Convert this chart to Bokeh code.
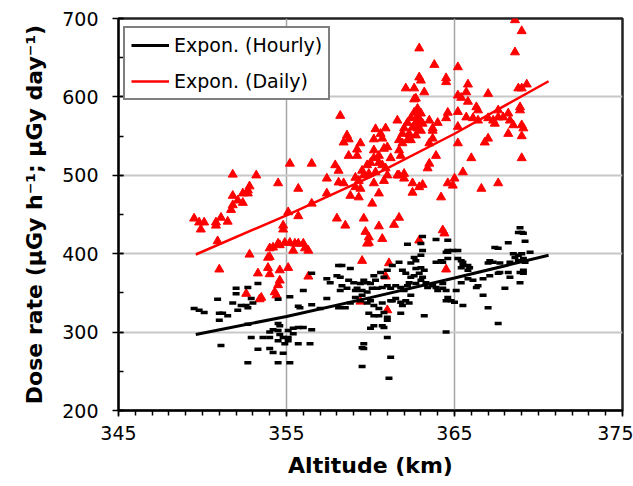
from bokeh.plotting import figure
from bokeh.models import Legend, LegendItem, FixedTicker, Range1d
from bokeh.embed import file_html
from bokeh.resources import INLINE

# ---- data: daily dose rate (red triangles) ----
red_alt = [349.5, 349.8, 350.1, 349.9, 350.8, 350.8, 351.1, 351.5, 351.8, 353.2, 352.8, 352.7, 352.4, 352.7,
           351.8, 352.1, 352.4, 351.8, 351.7, 350.9, 355.2, 356.5, 354.5, 355.7, 355.1, 355.7, 356.5, 354.8,
           354.8, 354.2, 354.5, 354.6, 354.9, 355.2, 355.5, 355.7, 356.0, 356.1, 356.3, 355.4, 354.0, 352.8,
           353.9, 354.0, 353.9, 354.0, 353.3, 354.6, 355.1, 356.3, 351.0, 354.6, 354.5, 354.3, 352.6, 353.5,
           354.4, 353.4, 357.4, 357.4,
           362.9, 363.8, 362.9, 363.0, 362.1, 362.6, 363.2, 362.6, 362.7, 362.8, 362.6, 362.8, 363.0, 362.4,
           362.2, 362.7, 362.9, 363.1, 362.5, 362.8, 363.0, 362.0, 361.9, 362.3, 362.7, 362.2, 361.9, 362.4,
           361.6, 358.2, 360.3, 360.9, 360.6, 360.2, 360.7, 358.6, 358.7, 358.4, 359.2, 358.7, 359.2, 359.4,
           360.2, 360.8, 360.5, 360.2, 360.0, 360.5, 360.7, 360.9, 361.2, 361.7, 361.8, 361.0, 361.7, 359.8,
           359.5, 359.6, 359.3, 359.1, 359.9, 360.3, 357.9, 358.1, 358.1, 358.4, 359.1, 359.4, 360.2, 360.8,
           361.0, 361.7, 362.0, 362.0, 362.5, 362.9, 363.1, 358.8, 359.3, 360.1, 360.5, 363.5, 363.7, 364.0,
           364.6, 363.7, 363.9, 363.5, 363.4, 364.2, 364.6,
           368.6, 369.0, 368.6, 365.2, 364.5, 364.5, 365.8, 365.7, 365.2, 365.4, 367.0, 368.8, 369.0, 369.3,
           365.8, 366.3, 366.4, 365.2, 365.7, 366.1, 366.4, 367.0, 367.3, 367.6, 367.6, 367.4, 367.9, 368.2,
           368.3, 368.5, 368.2, 368.9, 368.9, 369.0, 369.1, 369.0, 369.0, 364.5, 363.7, 363.5, 365.2, 365.2,
           367.0, 366.8, 366.0, 365.5, 365.0, 364.9, 366.6, 367.6, 362.5, 361.6,
           358.0, 358.5, 359.6, 359.7, 360.5, 361.4, 361.7, 359.9, 359.9, 359.8, 360.7, 359.5, 361.1, 360.9,
           359.4, 361.0, 362.9, 364.3, 364.4, 364.5]
red_dose = [445, 440, 440, 431, 440, 436, 446, 441, 501, 500, 486, 481, 477, 477,
            474, 468, 465, 462, 456, 416, 515, 515, 490, 483, 453, 448, 464, 436,
            431, 408, 413, 411, 414, 414, 413, 413, 413, 407, 404, 404, 407, 399,
            395, 396, 382, 374, 375, 379, 382, 371, 380, 366, 360, 351, 349, 344,
            347, 342, 477, 496,
            662, 641, 625, 621, 611, 611, 606, 597, 598, 585, 580, 576, 579, 573,
            567, 567, 570, 566, 561, 560, 557, 560, 553, 553, 551, 545, 541, 545,
            570, 576, 559, 560, 553, 546, 547, 551, 546, 542, 533, 525, 525, 541,
            532, 534, 525, 522, 516, 516, 513, 509, 522, 532, 525, 536, 545, 513,
            506, 500, 493, 497, 502, 504, 513, 506, 491, 490, 485, 483, 490, 493,
            500, 500, 502, 496, 490, 485, 488, 474, 472, 464, 477, 570, 560, 567,
            580, 547, 525, 515, 509, 472, 490,
            698, 684, 657, 638, 624, 619, 616, 606, 602, 599, 604, 611, 611, 616,
            594, 587, 583, 581, 574, 573, 570, 573, 570, 583, 574, 566, 574, 579,
            570, 564, 553, 583, 587, 564, 560, 550, 522, 573, 557, 541, 562, 541,
            547, 542, 522, 504, 496, 487, 483, 490, 478, 500,
            445, 436, 445, 428, 435, 437, 446, 421, 414, 413, 419, 391, 388, 371,
            339, 328, 417, 430, 426, 380]

# ---- data: hourly dose rate (black dashes) ----
blk_alt = [349.5, 349.8, 350.1, 350.9, 351.0, 351.2, 351.5, 351.0, 352.0, 352.0, 352.7, 353.3, 351.8, 352.3,
           352.6, 353.0, 352.1, 352.7, 352.9, 354.5, 355.2, 356.0, 355.7, 356.5, 357.4, 356.5, 352.7, 354.5,
           354.6, 354.5, 354.2, 354.0, 354.6, 355.1, 355.4, 355.4, 355.1, 354.8, 354.5, 354.0, 355.1, 354.9,
           352.9, 353.6, 355.7, 356.0, 356.5, 355.7, 356.4, 351.1, 353.3, 354.0, 354.2, 354.8, 352.7, 354.5,
           355.2, 355.8,
           363.1, 362.2, 363.9, 363.0, 363.1, 363.0, 362.6, 362.7, 362.4, 362.7, 363.0, 363.2, 362.9, 363.1,
           362.6, 362.4, 362.1, 361.9, 362.3, 362.2, 362.7, 363.0, 363.3, 363.4, 363.7, 363.9, 364.0, 364.3,
           364.3, 364.5, 364.6, 363.9, 364.2, 361.7, 361.3, 361.0, 360.6, 360.8, 360.2, 360.3, 360.0, 359.8,
           359.6, 359.4, 359.2, 359.5, 359.8, 360.1, 360.4, 360.7, 361.0, 361.2, 361.5, 361.8, 362.0, 362.4,
           362.1, 361.8, 361.5, 361.3, 358.1, 358.3, 358.8, 358.0, 358.2, 357.4, 357.6, 358.7, 359.0, 358.3,
           358.6, 358.2, 359.1, 359.5, 359.1, 359.4, 359.8, 360.0, 360.2, 360.5, 360.7, 360.8, 359.9, 360.2,
           360.5, 361.0, 361.2, 361.8, 361.9, 362.3, 358.1, 358.5, 358.8, 357.0, 360.2, 360.0, 360.7, 360.8,
           361.0, 361.0, 359.6, 359.5, 359.6, 359.5, 361.2, 361.1, 363.2, 364.5, 364.3, 364.5,
           368.9, 369.0, 368.8, 369.1, 369.2, 368.2, 367.6, 367.4, 368.5, 368.8, 369.0, 369.5, 368.6, 368.8,
           369.1, 369.2, 369.1, 368.9, 369.1, 368.9, 368.3, 368.2, 368.3, 367.7, 367.3, 367.1, 367.0, 367.1,
           367.6, 367.7, 366.7, 366.1, 368.0, 366.3, 366.4, 366.7, 367.0, 367.6, 364.9, 364.6, 365.2, 364.6,
           365.2, 365.4, 365.5, 365.4, 365.5, 365.8, 365.8, 365.9, 365.8, 365.4, 365.1, 364.5, 364.6, 364.8,
           365.0, 365.5, 364.6]
blk_dose = [330, 328, 325, 342, 324, 324, 321, 315, 356, 349, 357, 362, 337, 334,
            334, 337, 328, 331, 343, 342, 345, 353, 333, 335, 343, 375, 310, 311,
            308, 302, 303, 300, 297, 302, 305, 298, 293, 293, 289, 293, 289, 285,
            293, 293, 306, 306, 303, 285, 285, 283, 278, 279, 274, 273, 261, 261,
            261, 331,
            422, 412, 418, 413, 404, 398, 395, 391, 388, 381, 382, 379, 375, 370,
            372, 370, 375, 379, 363, 359, 362, 366, 363, 357, 359, 357, 353, 356,
            389, 402, 404, 389, 391, 389, 385, 379, 376, 370, 372, 366, 362, 363,
            366, 362, 356, 353, 351, 356, 356, 357, 359, 356, 359, 357, 353, 347,
            340, 338, 343, 340, 385, 385, 381, 372, 370, 368, 363, 366, 363, 359,
            356, 353, 353, 347, 344, 340, 337, 340, 334, 330, 337, 325, 324, 321,
            321, 319, 340, 324, 334, 337, 331, 331, 337, 330, 308, 305, 308, 306,
            315, 293, 285, 280, 279, 256, 268, 241, 321, 300, 362, 340,
            433, 427, 427, 426, 416, 414, 407, 408, 400, 398, 400, 402, 395, 391,
            394, 389, 379, 376, 375, 363, 389, 376, 370, 388, 389, 391, 388, 372,
            375, 376, 368, 366, 356, 357, 359, 347, 331, 311, 404, 402, 404, 394,
            394, 391, 389, 382, 385, 385, 379, 382, 368, 363, 353, 353, 344, 340,
            338, 334, 417]

# ---- exponential trendlines ----
fit_alt = [349.6, 355.0, 360.0, 365.0, 370.6]
fit_hourly = [297, 320, 344, 369, 398]
fit_daily = [399, 449, 498, 553, 620]

x_ticks = [345, 355, 365, 375]
y_ticks = [200, 300, 400, 500, 600, 700]

FONT = "DejaVu Sans"

p = figure(frame_width=504, frame_height=392,
           x_range=Range1d(345, 375), y_range=Range1d(200, 700),
           output_backend="svg", toolbar_location=None,
           min_border_left=118, min_border_right=11, min_border_top=18, min_border_bottom=76,
           background_fill_color="white", border_fill_color="white")

p.outline_line_color = "#222222"
p.outline_line_width = 2.5

p.xaxis.ticker = FixedTicker(ticks=x_ticks, minor_ticks=list(range(345, 376)))
p.yaxis.ticker = FixedTicker(ticks=y_ticks, minor_ticks=list(range(200, 701, 50)))

for ax in (p.xaxis[0], p.yaxis[0]):
    ax.axis_line_color = "black"
    ax.axis_line_width = 1.8
    ax.major_tick_line_color = "black"
    ax.minor_tick_line_color = "black"
    ax.major_tick_line_width = 1.5
    ax.minor_tick_line_width = 1.5
    ax.major_label_text_font = FONT
    ax.major_label_text_font_size = "19px"
    ax.major_label_text_color = "black"
    ax.axis_label_text_font = FONT
    ax.axis_label_text_font_size = "22px"
    ax.axis_label_text_font_style = "bold"
    ax.axis_label_text_color = "black"

p.xaxis.major_tick_in = 0
p.xaxis.major_tick_out = 6
p.xaxis.minor_tick_in = 0
p.xaxis.minor_tick_out = 5
p.xaxis.major_label_standoff = 9
p.xaxis.axis_label_standoff = 10
p.xaxis.axis_label = "Altitude (km)"

p.yaxis.major_tick_in = 5
p.yaxis.major_tick_out = 6
p.yaxis.minor_tick_in = 5
p.yaxis.minor_tick_out = 0
p.yaxis.major_label_standoff = 14
p.yaxis.axis_label_standoff = 12
p.yaxis.axis_label = "Dose rate (\u03bcGy h\u207b\u00b9; \u03bcGy day\u207b\u00b9)"

p.xgrid.grid_line_color = "#a6a6a6"
p.xgrid.grid_line_width = 1.5
p.ygrid.grid_line_color = "#c8c8c8"
p.ygrid.grid_line_width = 1.8

p.scatter(red_alt, red_dose, marker="triangle", size=9, fill_color="#ff0000", line_color="#ff0000")
p.scatter(blk_alt, blk_dose, marker="dash", size=7, line_color="black", line_width=3.5)

l_h = p.line(fit_alt, fit_hourly, line_color="black", line_width=3)
l_d = p.line(fit_alt, fit_daily, line_color="#ff0000", line_width=2.5)

legend = Legend(items=[LegendItem(label="Expon. (Hourly)", renderers=[l_h]),
                       LegendItem(label="Expon. (Daily)", renderers=[l_d])],
                location=(5, 310), margin=0, padding=6, spacing=14,
                glyph_width=38, glyph_height=20, label_height=20, label_standoff=5,
                label_text_font=FONT, label_text_font_size="19px", label_text_color="black",
                border_line_color="black", border_line_width=2, background_fill_alpha=1.0)
p.add_layout(legend)

open("out.html", "w").write(file_html(p, INLINE))
